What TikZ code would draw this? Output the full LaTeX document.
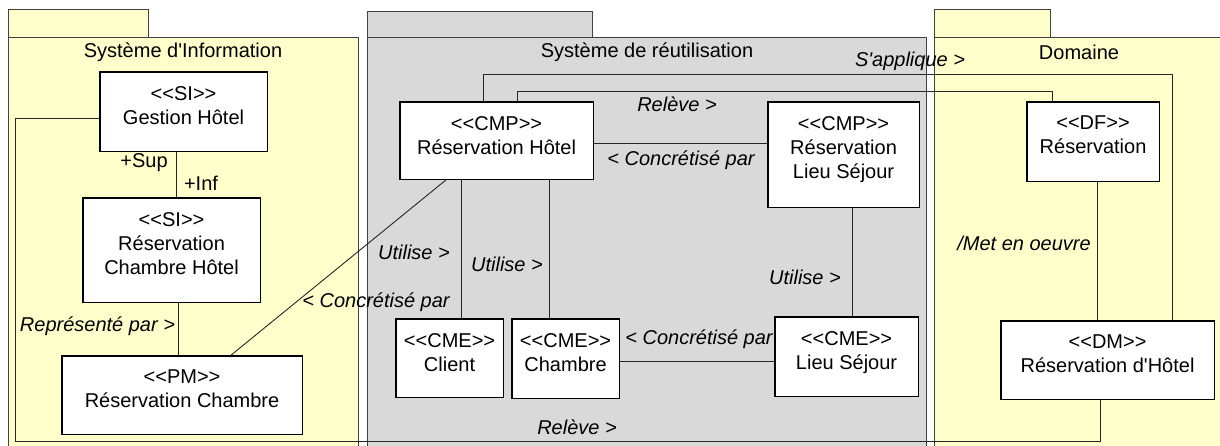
\documentclass[tikz,border=0pt]{standalone}
\usepackage{fontspec}
\newfontfamily\lsans{Liberation Sans}
\usetikzlibrary{calc}
\definecolor{pkgyellow}{HTML}{FFFFCC}
\definecolor{pkggray}{HTML}{D9D9D9}
\definecolor{edgecol}{HTML}{404040}
\begin{document}
\begin{tikzpicture}[x=1pt,y=-1pt,
  every node/.style={font=\lsans\fontsize{20}{24}\selectfont},
  umlbox/.style={draw=black, line width=1.1pt, fill=white, anchor=north west, inner sep=0pt},
  boxtext/.style={anchor=north, inner sep=0pt, align=center},
  pkgline/.style={draw=edgecol, line width=1pt},
  conn/.style={draw=black!85, line width=0.9pt},
  rel/.style={inner sep=0pt, font=\lsans\itshape\fontsize{20}{24}\selectfont},
  plainlbl/.style={inner sep=0pt}
]
\useasboundingbox (0,0) rectangle (1220,446);
\clip (0,0) rectangle (1220,446);

% packages
\filldraw[pkgline, fill=pkgyellow] (8,10) rectangle (148,38);
\filldraw[pkgline, fill=pkgyellow] (8,38) rectangle (358,470);
\filldraw[pkgline, fill=pkggray] (367,12) rectangle (592,38);
\filldraw[pkgline, fill=pkggray] (367,38) rectangle (926,470);
\filldraw[pkgline, fill=pkgyellow] (934,10) rectangle (1050,38);
\filldraw[pkgline, fill=pkgyellow] (934,38) rectangle (1240,470);
\node[plainlbl] (t1) at (183,52) {Système d'Information};
\node[plainlbl] (t2) at (647,52) {Système de réutilisation};
\node[plainlbl] (t3) at (1079,52) {Domaine};

% boxes (positions only, drawn later on top)
\path
  (100,72)  node[umlbox, minimum width=166pt, minimum height=78pt] (gh) {}
  (83,198)  node[umlbox, minimum width=176pt, minimum height=103pt] (sirch) {}
  (62,356)  node[umlbox, minimum width=239pt, minimum height=77pt] (pm) {}
  (400,102) node[umlbox, minimum width=192pt, minimum height=76pt] (cmprh) {}
  (768,102) node[umlbox, minimum width=150pt, minimum height=104pt] (cmprls) {}
  (1027,102) node[umlbox, minimum width=131pt, minimum height=78pt] (df) {}
  (396,319) node[umlbox, minimum width=106pt, minimum height=77pt] (client) {}
  (512,319) node[umlbox, minimum width=106pt, minimum height=78pt] (chambre) {}
  (775,317) node[umlbox, minimum width=142pt, minimum height=78pt] (cmels) {}
  (1001,321) node[umlbox, minimum width=212pt, minimum height=77pt] (dm) {};

% connector coordinates
\coordinate (b1) at ($(gh.north west)+(0,46)$);
\coordinate (lw) at (15,441);
\coordinate (d1) at ($(dm.south west)+(99,0)$);
\coordinate (c1) at ($(cmprh.north west)+(83,0)$);
\coordinate (sy) at (0,74);
\coordinate (d2) at ($(dm.north west)+(171,0)$);
\coordinate (c2) at ($(cmprh.north west)+(117,0)$);
\coordinate (ry) at (0,91);
\coordinate (d3) at ($(df.north west)+(25,0)$);

% connectors
\draw[conn] ($(gh.south west)+(76,0)$) coordinate (a1) -- (a1 |- sirch.north);
\draw[conn] ($(sirch.south west)+(95,0)$) coordinate (a2) -- (a2 |- pm.north);
\draw[conn] ($(cmprh.south west)+(47,0)$) -- ($(pm.north west)+(168,0)$);
\draw[conn] (b1) -- (b1 -| lw) -- (lw) -- (lw -| d1) -- (d1);
\draw[conn] (c1) -- (c1 |- sy) -- (sy -| d2) -- (d2);
\draw[conn] (c2) -- (c2 |- ry) -- (ry -| d3) -- (d3);
\draw[conn] ($(cmprh.north east)+(0,41)$) coordinate (e1) -- (e1 -| cmprls.west);
\draw[conn] ($(cmprh.south west)+(61,0)$) coordinate (a3) -- (a3 |- client.north);
\draw[conn] ($(cmprh.south west)+(149,0)$) coordinate (a4) -- (a4 |- chambre.north);
\draw[conn] ($(cmprls.south west)+(84,0)$) coordinate (a5) -- (a5 |- cmels.north);
\draw[conn] ($(chambre.north east)+(0,42)$) coordinate (e2) -- (e2 -| cmels.west);
\draw[conn] ($(df.south west)+(70,0)$) coordinate (a6) -- (a6 |- dm.north);

% boxes redrawn on top
\foreach \b in {gh,sirch,pm,cmprh,cmprls,df,client,chambre,cmels,dm}{
  \filldraw[draw=black, line width=1.1pt, fill=white] (\b.north west) rectangle (\b.south east);
}
\node[boxtext] (ght) at ($(gh.north)+(0,14)$) {<<SI>>\\Gestion Hôtel};
\node[boxtext] (sircht) at ($(sirch.north)+(0,14)$) {<<SI>>\\Réservation\\Chambre Hôtel};
\node[boxtext] (pmt) at ($(pm.north)+(0,14)$) {<<PM>>\\Réservation Chambre};
\node[boxtext] (cmprht) at ($(cmprh.north)+(0,14)$) {<<CMP>>\\Réservation Hôtel};
\node[boxtext] (cmprlst) at ($(cmprls.north)+(0,14)$) {<<CMP>>\\Réservation\\Lieu Séjour};
\node[boxtext] (dft) at ($(df.north)+(0,14)$) {<<DF>>\\Réservation};
\node[boxtext] (clientt) at ($(client.north)+(0,14)$) {<<CME>>\\Client};
\node[boxtext] (chambret) at ($(chambre.north)+(0,14)$) {<<CME>>\\Chambre};
\node[boxtext] (cmelst) at ($(cmels.north)+(0,14)$) {<<CME>>\\Lieu Séjour};
\node[boxtext] (dmt) at ($(dm.north)+(0,14)$) {<<DM>>\\Réservation d'Hôtel};

% labels
\node[plainlbl] (lsup) at (144,163) {+Sup};
\node[plainlbl] (linf) at (201,183) {+Inf};
\node[rel] (lrep) at (97.5,326) {Représenté par >};
\node[rel] (lc1) at (376,302) {< Concrétisé par};
\node[rel] (lrel1) at (677,104) {Relève >};
\node[rel] (lc2) at (681,160) {< Concrétisé par};
\node[rel] (lapp) at (910,61) {S'applique >};
\node[rel] (lu1) at (414,252) {Utilise >};
\node[rel] (lu2) at (507,264) {Utilise >};
\node[rel] (lu3) at (805,277) {Utilise >};
\node[rel] (lc3) at (699,339) {< Concrétisé par};
\node[rel] (lrel2) at (577,427) {Relève >};
\node[rel] (lmet) at (1024,243) {/Met en oeuvre};
\end{tikzpicture}
\end{document}
